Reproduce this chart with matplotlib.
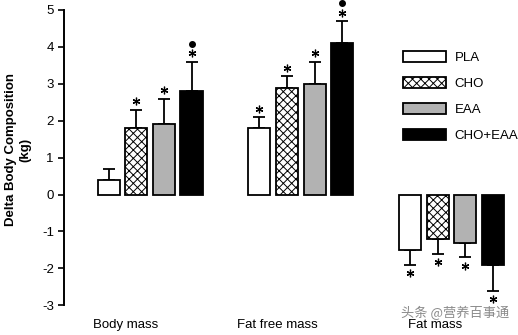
import numpy as np
import matplotlib.pyplot as plt
from matplotlib.transforms import offset_copy

plt.rcParams['font.family'] = ['Liberation Sans', 'DejaVu Sans']
plt.rcParams['hatch.linewidth'] = 0.7
plt.rcParams['axes.unicode_minus'] = False

# Data (kg change)
groups = ['Body mass', 'Fat free mass', 'Fat mass']
treatments = ['PLA', 'CHO', 'EAA', 'CHO+EAA']
means = {
    'PLA':     [0.4, 1.8, -1.5],
    'CHO':     [1.8, 2.9, -1.2],
    'EAA':     [1.9, 3.0, -1.3],
    'CHO+EAA': [2.8, 4.1, -1.9],
}
errors = {
    'PLA':     [0.3, 0.3, 0.4],
    'CHO':     [0.5, 0.3, 0.4],
    'EAA':     [0.7, 0.6, 0.4],
    'CHO+EAA': [0.8, 0.6, 0.7],
}
# significance marks: '*' vs baseline, dot vs other groups
star = {
    'PLA':     [False, True, True],
    'CHO':     [True, True, True],
    'EAA':     [True, True, True],
    'CHO+EAA': [True, True, True],
}
dot = {
    'PLA':     [False, False, False],
    'CHO':     [False, False, False],
    'EAA':     [False, False, False],
    'CHO+EAA': [True, True, False],
}
yticks = [-3, -2, -1, 0, 1, 2, 3, 4, 5]

# styles
face = {'PLA': 'white', 'CHO': 'white', 'EAA': '#b2b2b2', 'CHO+EAA': 'black'}
hatch = {'PLA': None, 'CHO': 'xxxx', 'EAA': None, 'CHO+EAA': None}

fig = plt.figure(figsize=(5.18, 3.35), dpi=100)
ax = fig.add_axes([64.3 / 518, 1 - 305.3 / 335, 445.7 / 518, 295.3 / 335])

group_x = np.arange(len(groups)) * 5.46
width = 0.8

for i, t in enumerate(treatments):
    x = group_x + (i - 1.5)
    m = np.array(means[t])
    e = np.array(errors[t])
    ax.bar(x, m, width, color=face[t], edgecolor='black', linewidth=1.3,
           hatch=hatch[t], label=t, zorder=2)
    # one-sided error bars, away from zero
    lower = np.where(m < 0, e, 0)
    upper = np.where(m > 0, e, 0)
    ax.errorbar(x, m, yerr=[lower, upper], fmt='none', ecolor='black',
                elinewidth=1.3, capsize=4.3, capthick=1.3, zorder=1)
    for j in range(len(groups)):
        tip = m[j] + np.sign(m[j]) * e[j]
        sgn = 1 if m[j] > 0 else -1
        if star[t][j]:
            tr = offset_copy(ax.transData, fig=fig, y=sgn * 6.0, units='points')
            ax.plot(x[j], tip, marker=(6, 2, 0), ms=5.5, mew=0.9, color='black',
                    transform=tr, clip_on=False)
        if dot[t][j]:
            tr = offset_copy(ax.transData, fig=fig, y=sgn * 12.7, units='points')
            ax.plot(x[j], tip, marker='o', ms=4, color='black',
                    transform=tr, clip_on=False)

ax.set_xlim(-3.11, 13.04)
ax.set_ylim(-3, 5)
ax.set_yticks(yticks)
ax.set_xticks([])
for s in ['top', 'right', 'bottom']:
    ax.spines[s].set_visible(False)
ax.spines['left'].set_linewidth(1.4)
ax.tick_params(axis='y', length=4.5, width=1.2, labelsize=9.5, pad=3)

label_off = [-0.88, -0.86, -0.6]
for g, gx, off in zip(groups, group_x, label_off):
    ax.text(gx + off, -3.53, g, ha='center', va='center', fontsize=9.5,
            clip_on=False)

fig.text(18 / 518, 1 - 150 / 335, 'Delta Body Composition\n(kg)',
         rotation=90, ha='center', va='center', fontsize=9.5,
         fontweight='bold', multialignment='center')

ax.legend(loc='upper left', bbox_to_anchor=(0.759, 0.861), frameon=False,
          fontsize=9.5, handlelength=3.3, handleheight=0.85,
          labelspacing=1.0, handletextpad=0.65, borderpad=0,
          borderaxespad=0)

fig.text(455 / 518, 1 - 313 / 335, '头条 @营养百事通', ha='center', va='center',
         fontsize=9.5, color='#8a8a8a', family=['Noto Sans CJK SC', 'DejaVu Sans'])

fig.savefig('out.png', dpi=100)
